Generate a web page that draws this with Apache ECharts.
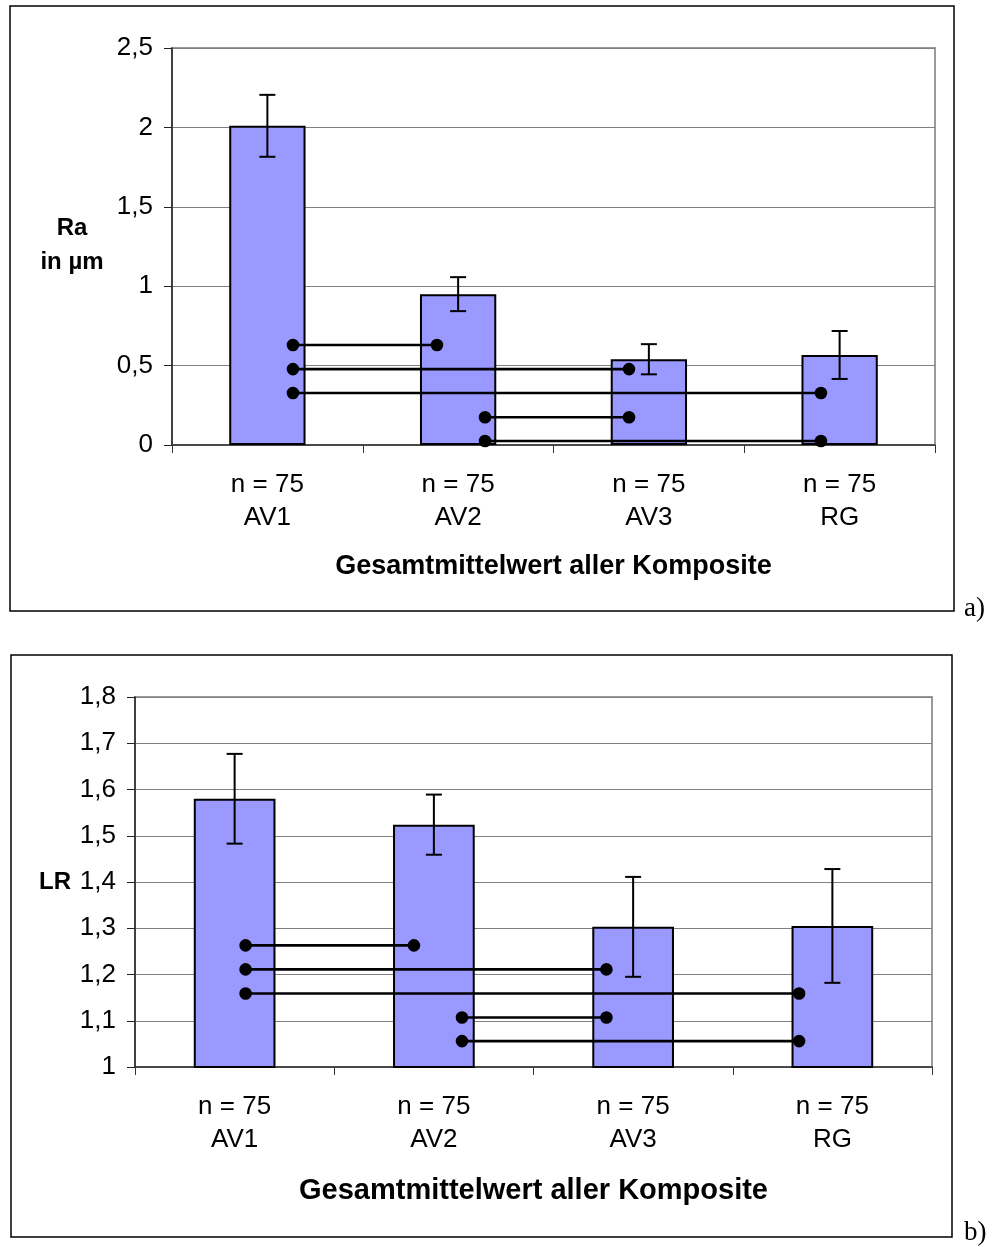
<!DOCTYPE html>
<html>
<head>
<meta charset="utf-8">
<script src="https://cdn.jsdelivr.net/npm/echarts@6/dist/echarts.min.js"></script>
<style>
  html, body { margin: 0; padding: 0; background: #fff; }
  #chart { width: 993px; height: 1247px; }
</style>
</head>
<body>
<div id="chart"></div>
<script>
// Groups and sample sizes
var categories = ['AV1', 'AV2', 'AV3', 'RG'];
var sampleSizes = [75, 75, 75, 75];

// Panel a: mean roughness Ra (µm) with standard deviation
var raMeans = [2.01, 0.95, 0.54, 0.567];
var raSd = [0.195, 0.107, 0.095, 0.151];
var raTicks = { min: 0, max: 2.5, interval: 0.5 };
// Significance connectors: [x start, x end, level] (x in category units)
var raPairs = [
  [0.634, 1.389, 0.630],
  [0.634, 2.396, 0.478],
  [0.634, 3.402, 0.327],
  [1.641, 2.396, 0.175],
  [1.641, 3.402, 0.025]
];

// Panel b: mean LR with standard deviation
var lrMeans = [1.58, 1.524, 1.303, 1.305];
var lrSd = [0.097, 0.065, 0.108, 0.123];
var lrTicks = { min: 1, max: 1.8, interval: 0.1 };
var lrPairs = [
  [0.555, 1.400, 1.263],
  [0.555, 2.366, 1.211],
  [0.555, 3.333, 1.159],
  [1.641, 2.366, 1.107],
  [1.641, 3.333, 1.056]
];

var FONT = 'Liberation Sans, Arial, sans-serif';

function commaFmt(v) {
  return String(+v.toFixed(2)).replace('.', ',');
}

function errData(means, sd) {
  return means.map(function (m, i) { return [i, m - sd[i], m + sd[i]]; });
}

function errorRender(params, api) {
  var lo = api.coord([api.value(0), api.value(1)]);
  var hi = api.coord([api.value(0), api.value(2)]);
  var half = 8;
  var st = { stroke: '#000', lineWidth: 2 };
  return {
    type: 'group',
    children: [
      { type: 'line', shape: { x1: hi[0], y1: hi[1], x2: lo[0], y2: lo[1] }, style: st },
      { type: 'line', shape: { x1: hi[0] - half, y1: hi[1], x2: hi[0] + half, y2: hi[1] }, style: st },
      { type: 'line', shape: { x1: lo[0] - half, y1: lo[1], x2: lo[0] + half, y2: lo[1] }, style: st }
    ]
  };
}

function pairRender(params, api) {
  var a = api.coord([api.value(0), api.value(2)]);
  var b = api.coord([api.value(1), api.value(2)]);
  return {
    type: 'group',
    children: [
      { type: 'line', shape: { x1: a[0], y1: a[1], x2: b[0], y2: b[1] }, style: { stroke: '#000', lineWidth: 2.6 } },
      { type: 'circle', shape: { cx: a[0], cy: a[1], r: 6.3 }, style: { fill: '#000' } },
      { type: 'circle', shape: { cx: b[0], cy: b[1], r: 6.3 }, style: { fill: '#000' } }
    ]
  };
}

function catAxis(gridIndex, titleSize, nameGap) {
  return {
    type: 'category',
    gridIndex: gridIndex,
    data: categories,
    boundaryGap: true,
    axisLine: { lineStyle: { color: '#333', width: 1.5 } },
    axisTick: { show: true, length: 8, lineStyle: { color: '#333' } },
    axisLabel: {
      margin: 23,
      fontFamily: FONT,
      fontSize: 26,
      lineHeight: 33,
      color: '#000',
      formatter: function (v, i) { return 'n = ' + sampleSizes[i] + '\n' + v; }
    },
    name: 'Gesamtmittelwert aller Komposite',
    nameLocation: 'middle',
    nameGap: nameGap,
    nameTextStyle: { fontFamily: FONT, fontSize: titleSize, fontWeight: 'bold', color: '#000' }
  };
}

function posAxis(gridIndex) {
  return {
    type: 'value', gridIndex: gridIndex, min: 0, max: 4, show: false
  };
}

function valAxis(gridIndex, ticks) {
  return {
    type: 'value',
    gridIndex: gridIndex,
    min: ticks.min,
    max: ticks.max,
    interval: ticks.interval,
    axisLine: { show: true, lineStyle: { color: '#222', width: 1.5 } },
    axisTick: { show: true, length: 8, lineStyle: { color: '#222' } },
    axisLabel: { margin: 19, fontFamily: FONT, fontSize: 26, color: '#000', formatter: commaFmt },
    splitLine: { show: true, lineStyle: { color: '#808080', width: 1.2 } }
  };
}

var barStyle = { color: '#9999FF', borderColor: '#000', borderWidth: 2 };

var option = {
  animation: false,
  backgroundColor: '#fff',
  grid: [
    { left: 172, top: 48, right: 58, height: 397, show: true, borderColor: '#9a9a9a', borderWidth: 2, backgroundColor: 'transparent' },
    { left: 135, top: 697, right: 61, height: 370, show: true, borderColor: '#9a9a9a', borderWidth: 2, backgroundColor: 'transparent' }
  ],
  xAxis: [
    catAxis(0, 27, 108),
    catAxis(1, 29, 109),
    posAxis(0),
    posAxis(1)
  ],
  yAxis: [
    valAxis(0, raTicks),
    valAxis(1, lrTicks)
  ],
  series: [
    { type: 'bar', xAxisIndex: 0, yAxisIndex: 0, data: raMeans, barWidth: '40%', itemStyle: barStyle, z: 2 },
    { type: 'custom', xAxisIndex: 0, yAxisIndex: 0, data: errData(raMeans, raSd), renderItem: errorRender, z: 3 },
    { type: 'custom', xAxisIndex: 2, yAxisIndex: 0, data: raPairs, renderItem: pairRender, z: 4 },
    { type: 'bar', xAxisIndex: 1, yAxisIndex: 1, data: lrMeans, barWidth: '41%', itemStyle: barStyle, z: 2 },
    { type: 'custom', xAxisIndex: 1, yAxisIndex: 1, data: errData(lrMeans, lrSd), renderItem: errorRender, z: 3 },
    { type: 'custom', xAxisIndex: 3, yAxisIndex: 1, data: lrPairs, renderItem: pairRender, z: 4 }
  ],
  graphic: [
    // panel frames
    { type: 'rect', shape: { x: 10, y: 6, width: 944, height: 605 }, style: { fill: 'none', stroke: '#000', lineWidth: 1.5 }, z: 0 },
    { type: 'rect', shape: { x: 11, y: 655, width: 941, height: 582 }, style: { fill: 'none', stroke: '#000', lineWidth: 1.5 }, z: 0 },
    // y-axis titles
    { type: 'text', x: 72, y: 228, style: { text: 'Ra', align: 'center', verticalAlign: 'middle', fontFamily: FONT, fontSize: 24, fontWeight: 'bold', fill: '#000' } },
    { type: 'text', x: 72, y: 262, style: { text: 'in µm', align: 'center', verticalAlign: 'middle', fontFamily: FONT, fontSize: 24, fontWeight: 'bold', fill: '#000' } },
    { type: 'text', x: 55, y: 882, style: { text: 'LR', align: 'center', verticalAlign: 'middle', fontFamily: FONT, fontSize: 24, fontWeight: 'bold', fill: '#000' } },
    // panel letters
    { type: 'text', x: 964, y: 609, style: { text: 'a)', verticalAlign: 'middle', fontFamily: 'Liberation Serif, Times New Roman, serif', fontSize: 27, fill: '#000' } },
    { type: 'text', x: 964, y: 1233, style: { text: 'b)', verticalAlign: 'middle', fontFamily: 'Liberation Serif, Times New Roman, serif', fontSize: 27, fill: '#000' } }
  ]
};

var chart = echarts.init(document.getElementById('chart'), null, { renderer: 'canvas' });
chart.setOption(option);
</script>
</body>
</html>
